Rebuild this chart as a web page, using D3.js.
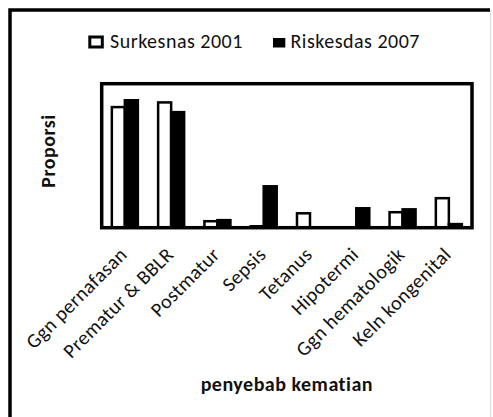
<!DOCTYPE html>
<html>
<head>
<meta charset="utf-8">
<script src="https://cdn.jsdelivr.net/npm/d3@7"></script>
<style>
  body { margin: 0; background: #fff; }
  svg { display: block; font-family: Carlito, Calibri, Lato, sans-serif; }
</style>
</head>
<body>
<div id="app"></div>
<script>
// causes of neonatal death, proportion (%)
const categories = ['Ggn pernafasan', 'Prematur & BBLR', 'Postmatur', 'Sepsis', 'Tetanus', 'Hipotermi', 'Ggn hematologik', 'Keln kongenital'];
const seriesNames = ['Surkesnas 2001', 'Riskesdas 2007'];
const surkesnas2001 = [33.5, 34.8, 1.8, 0.4, 4.0, 0, 4.3, 8.2];
const riskesdas2007 = [35.4, 32.1, 2.1, 11.5, 0, 5.4, 5.1, 1.0];

const width = 493;
const height = 417;
const plot = { left: 101.7, right: 472, top: 83.7, bottom: 227.7 };

const svg = d3.create('svg').attr('width', width).attr('height', height);

svg.append('rect').attr('width', width).attr('height', height).attr('fill', '#fff');

// outer chart border (right edge is cut, faint)
svg.append('line').attr('x1', 490.7).attr('x2', 490.7).attr('y1', 10).attr('y2', height)
	.attr('stroke', '#d8d8d8').attr('stroke-width', 1);
svg.append('path').attr('d', `M10,${height} V10 H490`)
	.attr('fill', 'none').attr('stroke', '#000').attr('stroke-width', 3.5);

const x0 = d3.scaleBand().domain(categories).range([plot.left, plot.right]).padding(0);
const x1 = d3.scaleBand().domain(seriesNames).range([0, x0.bandwidth()]).paddingInner(0).paddingOuter(0.78);
const y = d3.scaleLinear().domain([0, 40]).range([plot.bottom, plot.top]);

const rows = categories.map((c, i) => ({ cat: c, vals: [surkesnas2001[i], riskesdas2007[i]] }));
const fills = ['#fff', '#000'];

const groups = svg.append('g').selectAll('g').data(rows).join('g')
	.attr('transform', (d) => `translate(${x0(d.cat)},0)`);

groups.selectAll('rect')
	.data((d) => d.vals.map((v, j) => ({ s: seriesNames[j], v, j })))
	.join('rect')
	.filter((d) => d.v > 0)
	.attr('x', (d) => x1(d.s))
	.attr('width', x1.bandwidth())
	.attr('y', (d) => y(d.v))
	.attr('height', (d) => y(0) - y(d.v))
	.attr('fill', (d) => fills[d.j])
	.attr('stroke', '#000')
	.attr('stroke-width', 2.5);

// plot area frame
svg.append('rect')
	.attr('x', plot.left).attr('y', plot.top)
	.attr('width', plot.right - plot.left).attr('height', plot.bottom - plot.top)
	.attr('fill', 'none').attr('stroke', '#000').attr('stroke-width', 3.5);

// x tick labels, rotated
svg.append('g').selectAll('text').data(categories).join('text')
	.attr('transform', (d) => `translate(${x0(d) + x0.bandwidth() / 2 + 3.5},${plot.bottom + 28}) rotate(-45)`)
	.attr('text-anchor', 'end')
	.attr('font-size', 20)
	.attr('letter-spacing', 0.4)
	.attr('fill', '#111')
	.text((d) => d);

// axis titles
svg.append('text')
	.attr('x', (plot.left + plot.right) / 2).attr('y', 391)
	.attr('text-anchor', 'middle').attr('font-weight', 'bold').attr('font-size', 20)
	.attr('letter-spacing', 0.5)
	.attr('fill', '#111')
	.text('penyebab kematian');

svg.append('text')
	.attr('transform', `translate(55,151) rotate(-90)`)
	.attr('text-anchor', 'middle').attr('font-weight', 'bold').attr('font-size', 20)
	.attr('letter-spacing', 0.5)
	.attr('fill', '#111')
	.text('Proporsi');

// legend
const legend = svg.append('g');
// white marker drawn with a thick outline, black one solid
legend.append('rect').attr('x', 89.8).attr('y', 37).attr('width', 12.5).attr('height', 10)
	.attr('fill', fills[0]).attr('stroke', '#000').attr('stroke-width', 3);
legend.append('rect').attr('x', 273).attr('y', 38).attr('width', 12.3).attr('height', 9.5)
	.attr('fill', fills[1]);
legend.selectAll('text').data(seriesNames).join('text')
	.attr('x', (d, j) => [110, 290.5][j]).attr('y', 48)
	.attr('font-size', 20).attr('letter-spacing', 0.5).attr('fill', '#111')
	.text((d) => d);

document.getElementById('app').append(svg.node());
</script>
</body>
</html>
